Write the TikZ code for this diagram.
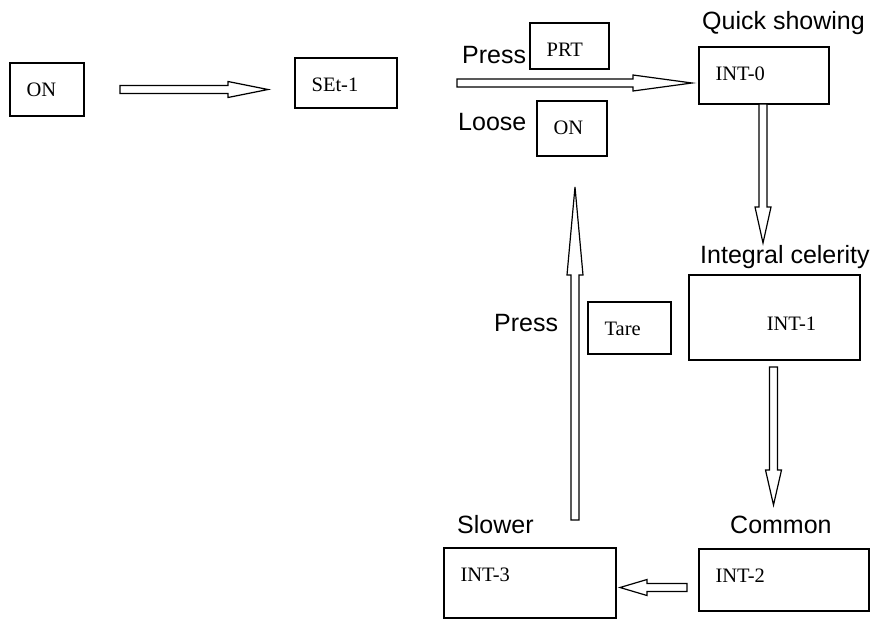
\documentclass[tikz,border=0pt]{standalone}
\usepackage{fontspec}
\setmainfont{Liberation Serif}
\newfontfamily\arialfont{Liberation Sans}
\usepackage{tikz}
\usetikzlibrary{calc}

\tikzset{
  box/.style={draw, line width=1.2pt, inner sep=0pt},
  tag/.style={anchor=north west, inner sep=0pt, xshift=17pt, yshift=-20pt,
    font=\fontsize{20.5}{24}\selectfont},
  note/.style={anchor=base west, inner sep=0pt, font=\arialfont\fontsize{25}{30}\selectfont},
  fat/.style={draw, line width=1.2pt, fill=white}
}

% hollow block arrow from #2 to #3, head length #1
\newcommand{\fatarrow}[3][36pt]{%
  \coordinate (fa-h) at ($(#3)!#1!(#2)$);
  \draw[fat] ($(#2)!4pt!90:(#3)$) -- ($(fa-h)!4pt!90:(#3)$) -- ($(fa-h)!8pt!90:(#3)$) -- (#3)
    -- ($(fa-h)!8pt!-90:(#3)$) -- ($(fa-h)!4pt!-90:(#3)$) -- ($(#2)!4pt!-90:(#3)$) -- cycle;}

\begin{document}
\begin{tikzpicture}[x=1pt, y=-1pt]
\useasboundingbox (0,0) rectangle (878,619);

\node[box, minimum width=74, minimum height=53, label={[tag]north west:ON}] (on1) at (47, 89.5) {};
\node[box, minimum width=102, minimum height=50, label={[tag]north west:SEt-1}] (set1) at (346, 83) {};
\node[box, minimum width=79, minimum height=46, label={[tag]north west:PRT}] (prt) at (569.5, 46) {};
\node[box, minimum width=70, minimum height=55, label={[tag]north west:ON}] (on2) at (572, 128.5) {};
\node[box, minimum width=130, minimum height=57, label={[tag]north west:INT-0}] (int0) at (764, 75.5) {};
\node[box, minimum width=171, minimum height=85, label={[tag, anchor=north, xshift=0pt, yshift=-22pt]north:INT-1}] (int1) at (774.5, 317.5) {};
\node[box, minimum width=83, minimum height=52, label={[tag]north west:Tare}] (tare) at (629.5, 328) {};
\node[box, minimum width=172, minimum height=70, label={[tag]north west:INT-3}] (int3) at (530, 583) {};
\node[box, minimum width=170, minimum height=62, label={[tag]north west:INT-2}] (int2) at (784, 580) {};

\node[note] (quick) at (702, 29) {Quick showing};
\node[note] (press1) at (462, 63) {Press};
\node[note] (loose) at (458, 130) {Loose};
\node[note] (integral) at (700, 263) {Integral celerity};
\node[note] (press2) at (494, 331) {Press};
\node[note] (slower) at (457, 533) {Slower};
\node[note] (common) at (730, 533) {Common};

\coordinate (a1s) at (120, 89.5);
\coordinate (a1e) at (268, 89.5);
\coordinate (a2s) at (457, 83);
\coordinate (a2e) at (692, 83);
\coordinate (a3s) at (763, 104);
\coordinate (a3e) at (763, 243);
\coordinate (a4s) at (575, 520);
\coordinate (a4e) at (575, 187);
\coordinate (a5s) at (773.5, 367);
\coordinate (a5e) at (773.5, 505);
\coordinate (a6s) at (687, 587.5);
\coordinate (a6e) at (620, 587.5);

\fatarrow[40pt]{a1s}{a1e}
\fatarrow[59pt]{a2s}{a2e}
\fatarrow[36pt]{a3s}{a3e}
\fatarrow[88pt]{a4s}{a4e}
\fatarrow[35pt]{a5s}{a5e}
\fatarrow[27pt]{a6s}{a6e}
\end{tikzpicture}
\end{document}
